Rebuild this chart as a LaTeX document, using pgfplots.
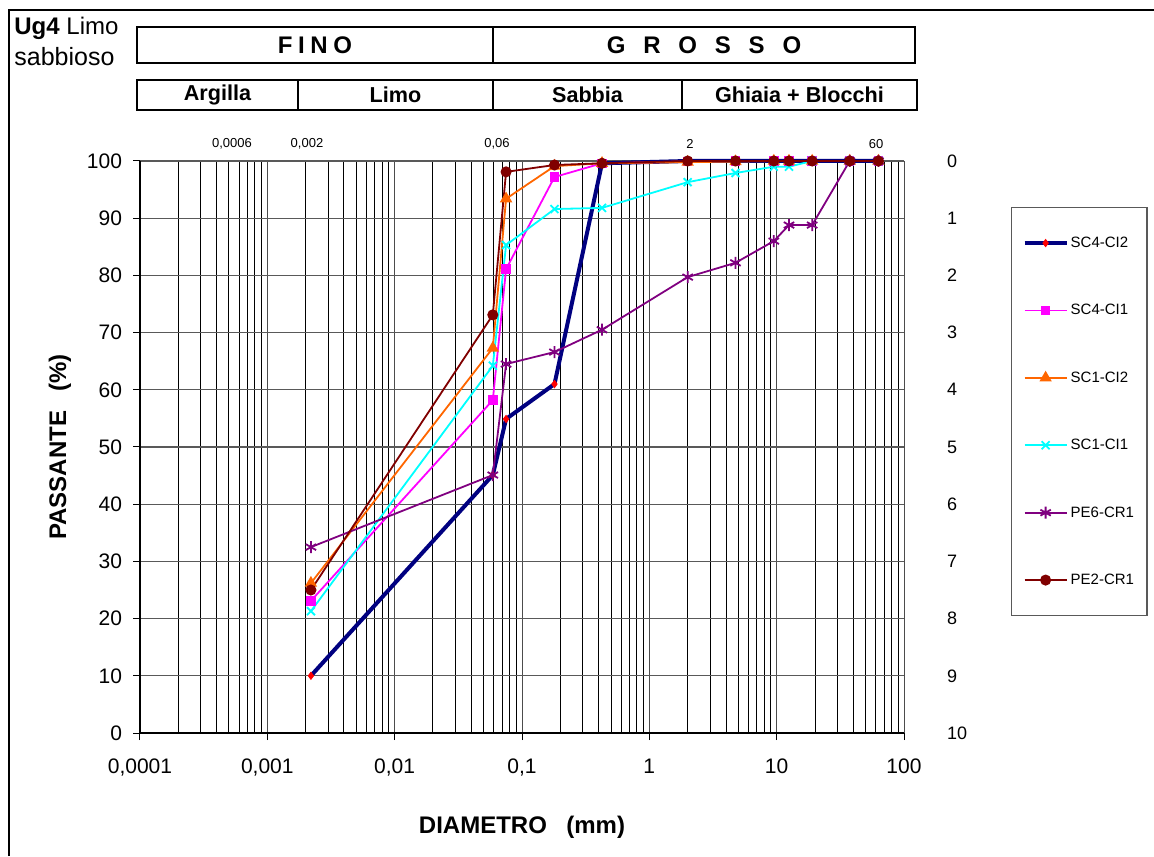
\documentclass[border=0pt]{standalone}
\usepackage{fontspec}
\setmainfont{Liberation Sans}
\usepackage{pgfplots}
\pgfplotsset{compat=1.18}
\definecolor{navyS}{RGB}{0,0,128}
\definecolor{magS}{RGB}{255,0,255}
\definecolor{orgS}{RGB}{255,102,0}
\definecolor{cyaS}{RGB}{0,255,255}
\definecolor{purS}{RGB}{128,0,128}
\definecolor{drS}{RGB}{128,0,0}
\begin{document}
\begin{tikzpicture}
\begin{scope}[x=0.5pt,y=-0.5pt,shift={(-70pt,366.5pt)}]
\path[use as bounding box] (0,0) rectangle (1154,856);
\draw[line width=0.75pt] (9,856) -- (9,10) -- (1154,10);
\begin{scope}[line width=1pt]
\draw (137,27) rectangle (493,63);
\draw (493,27) rectangle (915,63);
\draw (137,80) rectangle (298,110);
\draw (298,80) rectangle (493,110);
\draw (493,80) rectangle (682,110);
\draw (682,80) rectangle (917,110);
\end{scope}
\node[font=\bfseries\fontsize{12}{14}\selectfont] at (315,45) {F\hspace{2.8pt}I\hspace{2.8pt}N\hspace{2.8pt}O};
\node[font=\bfseries\fontsize{12}{14}\selectfont] at (704,45) {G\hspace{8.9pt}R\hspace{8.9pt}O\hspace{8.9pt}S\hspace{8.9pt}S\hspace{8.9pt}O};
\node[font=\bfseries\fontsize{10.8}{13}\selectfont] at (217.5,95) {Argilla};
\node[font=\bfseries\fontsize{10.8}{13}\selectfont] at (395.5,95) {Limo};
\node[font=\bfseries\fontsize{10.8}{13}\selectfont] at (587.5,95) {Sabbia};
\node[font=\bfseries\fontsize{10.8}{13}\selectfont] at (799.5,95) {Ghiaia + Blocchi};
\node[anchor=west,inner sep=0pt,font=\fontsize{12}{14}\selectfont] at (14,28) {\textbf{Ug4} Limo};
\node[anchor=west,inner sep=0pt,font=\fontsize{12.5}{14}\selectfont] at (14,57) {sabbioso};
\foreach \xx/\tt in {232/{0,0006},307/{0,002},497/{0,06},690/{2},876/{60}}
  \node[font=\fontsize{6.5}{8}\selectfont] at (\xx,144) {\tt};
\end{scope}
\begin{axis}[
  at={(0,0)}, anchor=south west,
  width=382pt, height=286pt, scale only axis,
  xmode=log, xmin=1e-4, xmax=100, ymin=0, ymax=100,
  clip=false,
  axis lines=left,
  axis line style={-, black, line width=0.6pt},
  xtick={1e-4,1e-3,1e-2,1e-1,1,10,100},
  xticklabels={{0,0001},{0,001},{0,01},{0,1},1,10,100},
  ytick={0,10,...,100},
  tick align=outside, major tick length=3.5pt, minor tick length=0pt,
  tick style={black, line width=0.5pt},
  xmajorgrids, xminorgrids, ymajorgrids,
  major x grid style={gray!60!black, line width=0.5pt},
  minor x grid style={black, line width=0.5pt},
  major y grid style={gray!70!black, line width=0.6pt},
  /pgf/number format/assume math mode=true,
  ticklabel style={font=\fontsize{10.5}{12}\selectfont},
  xticklabel style={yshift=-6pt},
  yticklabel style={xshift=-2pt},
  xlabel={DIAMETRO\hspace{9.7pt}(mm)},
  ylabel={PASSANTE\hspace{9.7pt}(\%)},
  xlabel style={font=\bfseries\fontsize{12}{14}\selectfont, at={(axis description cs:0.5,-0.1643)}, anchor=center},
  ylabel style={font=\bfseries\fontsize{12}{14}\selectfont, at={(axis description cs:-0.1047,0.5)}, anchor=center},
  legend style={at={(axis description cs:1.140,0.9196)}, anchor=north west,
    draw=gray!70!black, line width=0.6pt, font=\fontsize{7.5}{9}\selectfont,
    row sep=24.2pt, inner xsep=5.5pt, inner ysep=13pt,
    nodes={inner sep=1pt, text height=6pt, text depth=1.5pt}},
  legend cell align=left,
  legend image code/.code={\draw[mark repeat=2,mark phase=2] plot coordinates {(0cm,0cm) (0.37cm,0cm) (0.74cm,0cm)};},
]
\addplot[navyS, line width=2pt, mark=diamond*, mark size=1.8pt, mark options={fill=red, draw=red, line width=0.4pt}] coordinates {
(0.0022,10) (0.059,45.1) (0.075,54.9) (0.18,61.0) (0.425,99.6) (2,100) (4.75,100) (9.5,100) (12.5,100) (19,100) (37.5,100) (63,100)};
\addlegendentry{SC4-CI2}
\addplot[magS, line width=0.9pt, mark=square*, mark size=1.9pt, mark options={fill=magS}] coordinates {
(0.0022,23.1) (0.059,58.2) (0.075,81.1) (0.18,97.2) (0.425,99.6) (2,99.9) (4.75,100) (9.5,100) (12.5,100) (19,100) (37.5,100) (63,100)};
\addlegendentry{SC4-CI1}
\addplot[orgS, line width=0.9pt, mark=triangle*, mark size=2.7pt, mark options={fill=orgS}] coordinates {
(0.0022,26.2) (0.059,67.3) (0.075,93.4) (0.18,99.1) (0.425,99.6) (2,99.8) (4.75,99.9) (9.5,100) (12.5,100) (19,100) (37.5,100) (63,100)};
\addlegendentry{SC1-CI2}
\addplot[cyaS, line width=0.9pt, mark=x, mark size=2.8pt] coordinates {
(0.0022,21.3) (0.059,64.2) (0.075,85.3) (0.18,91.6) (0.425,91.8) (2,96.3) (4.75,97.9) (9.5,99.0) (12.5,99.0) (19,100) (37.5,100) (63,100)};
\addlegendentry{SC1-CI1}
\addplot[purS, line width=0.9pt, mark=asterisk, mark size=3pt] coordinates {
(0.0022,32.5) (0.059,45.1) (0.075,64.5) (0.18,66.6) (0.425,70.5) (2,79.7) (4.75,82.2) (9.5,86.0) (12.5,88.8) (19,88.8) (37.5,100) (63,100)};
\addlegendentry{PE6-CR1}
\addplot[drS, line width=0.9pt, mark=*, mark size=2.3pt, mark options={fill=drS}] coordinates {
(0.0022,25.0) (0.059,73.1) (0.075,98.1) (0.18,99.3) (0.425,99.6) (2,100) (4.75,100) (9.5,100) (12.5,100) (19,100) (37.5,100) (63,100)};
\addlegendentry{PE2-CR1}
\end{axis}
\begin{axis}[
  at={(0,0)}, anchor=south west,
  width=382pt, height=286pt, scale only axis,
  xmin=0, xmax=1, ymin=0, ymax=10, y dir=reverse,
  hide x axis, axis y line*=right,
  y axis line style={draw=none},
  ytick={0,1,...,10}, major tick length=0pt,
  /pgf/number format/assume math mode=true,
  yticklabel style={font=\fontsize{9}{11}\selectfont, anchor=west, xshift=18pt},
]
\end{axis}
\end{tikzpicture}
\end{document}
